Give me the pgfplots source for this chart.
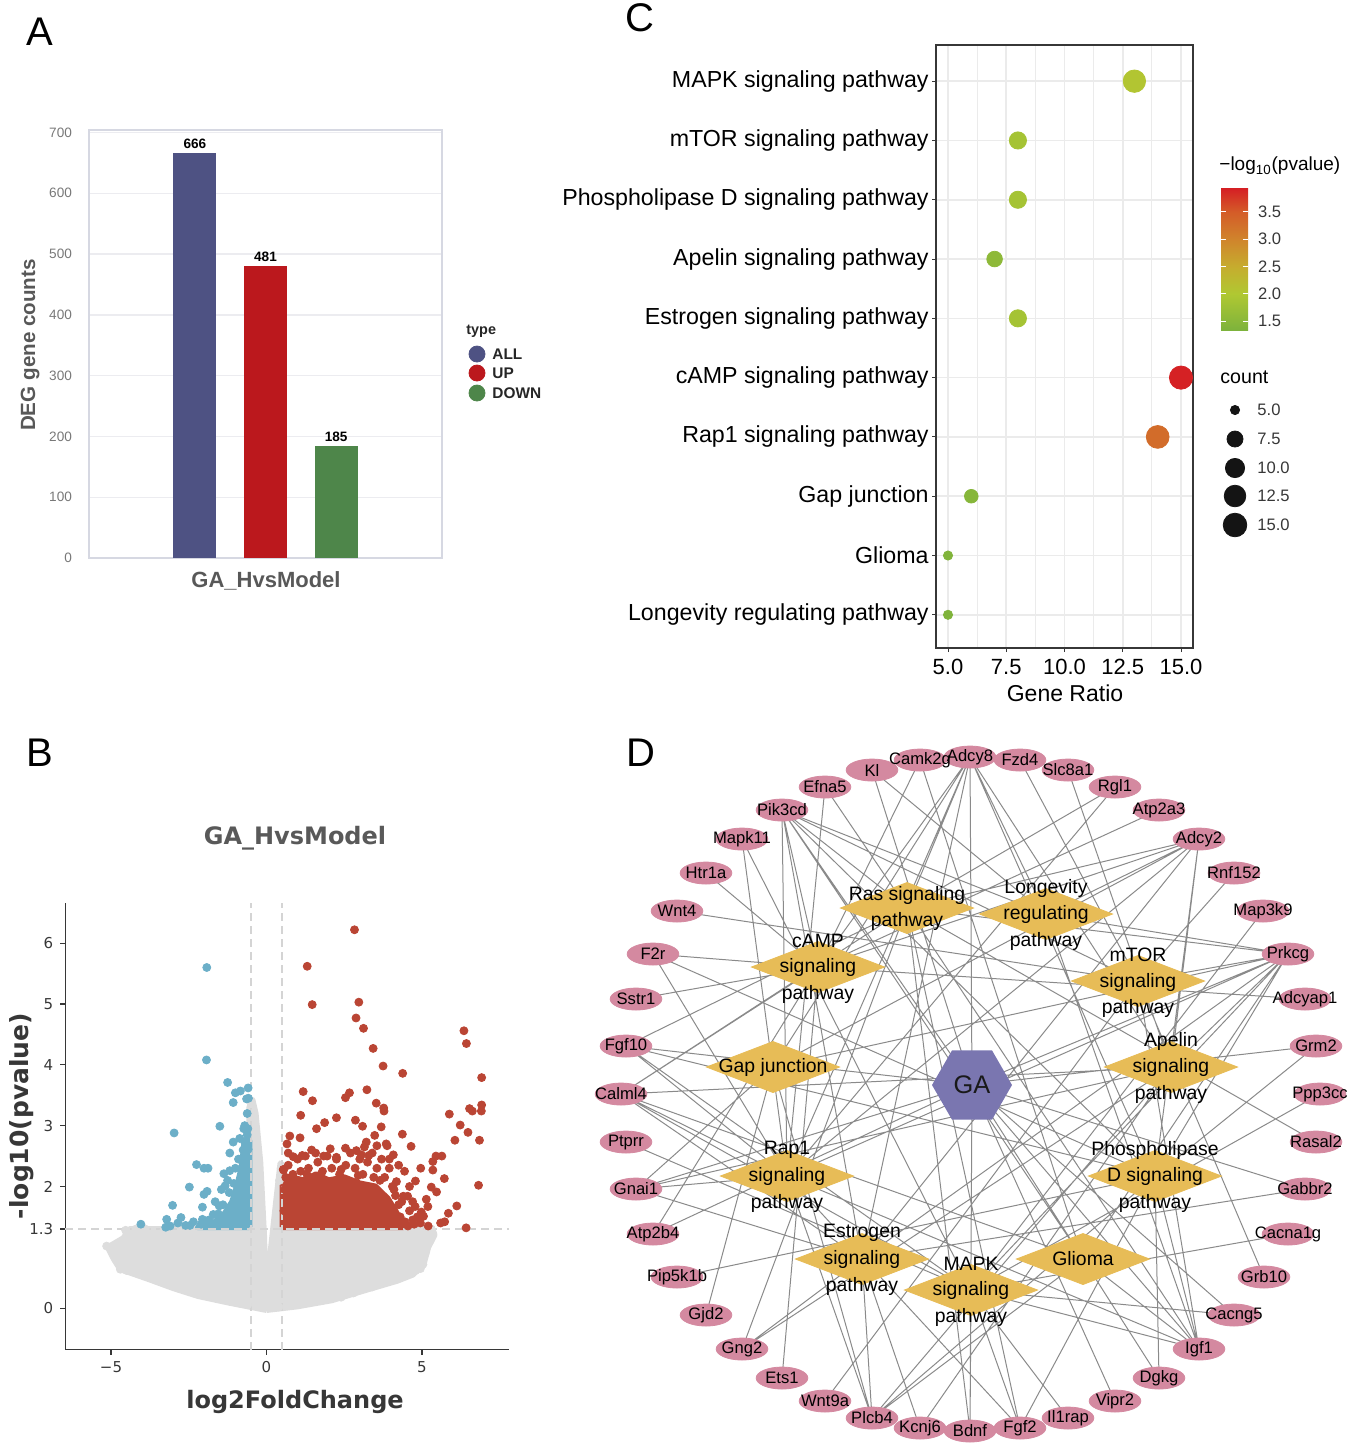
\documentclass[border=0pt]{standalone}
\usepackage{fontspec}
\setmainfont{Liberation Sans}
\newfontfamily\dejavu{DejaVu Sans}
\usepackage{pgfplots}
\usepackage{pgfplotstable}
\pgfplotsset{compat=1.18}
\usetikzlibrary{shapes.geometric}

\newcommand{\fs}[1]{\fontsize{#1}{#1}\selectfont}

\definecolor{barAll}{RGB}{78,82,131}
\definecolor{barUp}{RGB}{187,24,29}
\definecolor{barDown}{RGB}{78,134,74}
\definecolor{boxA}{RGB}{214,216,226}
\definecolor{gridA}{RGB}{236,236,240}
\definecolor{txtA}{RGB}{120,120,120}
\definecolor{labA}{RGB}{88,88,88}
\definecolor{upRed}{RGB}{186,69,52}
\definecolor{downBlue}{RGB}{108,175,200}
\definecolor{nsGray}{RGB}{221,221,221}
\definecolor{dashGray}{RGB}{212,212,212}
\definecolor{axDark}{RGB}{55,55,55}
\definecolor{gridC}{RGB}{235,235,235}
\definecolor{geneCol}{RGB}{212,137,160}
\definecolor{pathCol}{RGB}{231,188,87}
\definecolor{gaCol}{RGB}{122,118,176}
\definecolor{edgeCol}{RGB}{138,138,138}

% network nodes (pixel coordinates of panel D)
\pgfplotstableread{
x y label
872 770 Kl
920 760 Camk2g
970 757 Adcy8
1020 760 Fzd4
1068 770 Slc8a1
1115 787 Rgl1
1159 810 Atp2a3
1199 839 Adcy2
1234 873 Rnf152
1263 911 Map3k9
1288 954 Prkcg
1305 999 Adcyap1
1316 1046 Grm2
1320 1094 Ppp3cc
1316 1142 Rasal2
1305 1189 Gabbr2
1288 1234 Cacna1g
1264 1277 Grb10
1234 1315 Cacng5
1199 1349 Igf1
1159 1378 Dgkg
1115 1401 Vipr2
1068 1418 Il1rap
1020 1428 Fgf2
970 1431 Bdnf
920 1428 Kcnj6
872 1418 Plcb4
825 1401 Wnt9a
782 1378 Ets1
742 1349 Gng2
706 1315 Gjd2
677 1277 Pip5k1b
653 1234 Atp2b4
636 1189 Gnai1
626 1142 Ptprr
621 1094 Calml4
626 1046 Fgf10
636 999 Sstr1
653 954 F2r
677 911 Wnt4
706 873 Htr1a
742 839 Mapk11
782 810 Pik3cd
825 787 Efna5
}\genes

\pgfplotstableread{
x y label
907 895 {Ras signaling}
907 921 pathway
1046 888 Longevity
1046 914 regulating
1046 941 pathway
818 941 cAMP
818 967 signaling
818 994 pathway
1138 955 mTOR
1138 982 signaling
1138 1008 pathway
773 1067 {Gap junction}
1171 1041 Apelin
1171 1067 signaling
1171 1094 pathway
787 1150 Rap1
787 1176 signaling
787 1203 pathway
1155 1150 Phospholipase
1155 1176 {D signaling}
1155 1203 pathway
862 1233 Estrogen
862 1259 signaling
862 1286 pathway
1083 1259 Glioma
971 1264 MAPK
971 1290 signaling
971 1317 pathway
}\pathtext

\begin{document}
\begin{tikzpicture}
\useasboundingbox (0,0) rectangle (675.5pt,-723.5pt);

% ---------- A: DEG counts ----------
\begin{axis}[
  at={(44.5pt,-279pt)}, anchor=south west,
  scale only axis, width=176.5pt, height=214pt,
  xmin=0, xmax=1, ymin=0, ymax=704,
  xtick=\empty,
  ytick={0,100,...,700},
  yticklabels={0,100,200,300,400,500,600,700},
  major tick length=0pt,
  yticklabel style={font=\fs{6.8}, text=txtA, xshift=-5pt},
  axis line style={draw=boxA, line width=0.6pt},
  ymajorgrids, major grid style={draw=gridA, line width=0.7pt},
  clip=false,
  point meta=explicit symbolic,
  nodes near coords,
  nodes near coords style={font=\bfseries\fs{6.8}, text=black, inner sep=2pt},
]
\addplot[ybar, bar width=0.122, bar shift=0pt, fill=barAll, draw=none] coordinates {(0.3,666) [666]};
\addplot[ybar, bar width=0.122, bar shift=0pt, fill=barUp, draw=none] coordinates {(0.5,481) [481]};
\addplot[ybar, bar width=0.122, bar shift=0pt, fill=barDown, draw=none] coordinates {(0.7,185) [185]};
\end{axis}

% ---------- B: volcano ----------
\begin{axis}[
  at={(32.65pt,-674.75pt)}, anchor=south west,
  scale only axis, width=221.85pt, height=223.25pt,
  xmin=-6.47, xmax=7.8, ymin=-0.68, ymax=6.66,
  axis x line*=bottom, axis y line*=left,
  axis line style={-, draw=axDark, line width=0.6pt},
  x axis line style={-}, y axis line style={-},
  xtick={-5,0,5}, xticklabels={−5,0,5},
  ytick={0,1.3,2,3,4,5,6}, yticklabels={0,1.3,2,3,4,5,6},
  tick align=outside, major tick length=2.5pt,
  tick style={draw=axDark, line width=0.6pt},
  ticklabel style={font=\dejavu\fs{7.5}, text=axDark},
  clip=false,
]
% dense non-significant cloud
\addplot[fill=nsGray, draw=nsGray, line width=3pt, line join=round] coordinates {
(0,-0.03) (1.0,0.03) (2.1,0.13) (3.2,0.3) (4.2,0.45) (4.7,0.55) (5.05,0.72)
(5.2,1.0) (5.4,1.2) (5.2,1.3) (0.52,1.3) (0.52,2.35) (0.45,2.38) (0.3,1.7)
(0.15,1.0) (0.04,0.5) (-0.04,0.5) (-0.08,1.2) (-0.2,2.4) (-0.35,3.2)
(-0.45,3.42) (-0.55,3.3) (-0.55,1.3) (-4.4,1.3) (-4.6,1.15) (-5.1,1.0)
(-4.9,0.8) (-4.7,0.64) (-3.8,0.48) (-3.0,0.33) (-2.2,0.2) (-1.2,0.09) (0,-0.03)
};
\addplot[only marks, mark=*, mark size=2pt, color=nsGray] coordinates {
(-5.14,1.02) (-4.53,1.28) (-4.45,1.18) (-4.3,1.05) (-4.1,0.95) (-3.9,1.1)
(-3.6,1.2) (-3.3,1.28) (-4.7,0.64) (-4.5,0.62) (-4.0,0.7) (-3.5,0.5)
(-2.6,0.3) (-1.8,0.2) (-1.0,0.1) (5.35,1.23) (5.25,1.1) (5.1,0.9)
(5.03,0.72) (4.8,0.62) (4.5,0.55) (3.8,0.42) (2.8,0.25) (1.8,0.13)
(0.9,0.06) (-0.5,3.38) (-0.45,3.2) (-0.4,2.9) (-0.3,2.6) (0.47,2.3) (0.42,2.1)
(-4.85,0.9) (-4.2,0.8) (-3.2,0.42) (-2.9,0.38) (-2.4,0.28) (-1.5,0.16)
(-0.6,0.06) (0.4,0.02) (1.4,0.1) (2.4,0.18) (3.4,0.35) (4.1,0.5) (4.95,0.65)
(5.3,1.3) (4.9,1.3) (-4.2,1.3) (-3.9,1.3)
};
% up-regulated
\addplot[fill=upRed, draw=upRed, line width=3pt, line join=round] coordinates {
(0.52,1.33) (0.52,2.05) (0.8,2.15) (1.2,2.1) (1.6,2.2) (2.0,2.1) (2.5,2.15)
(3.0,2.05) (3.5,2.0) (3.9,1.8) (4.2,1.55) (4.4,1.33) (0.52,1.33)
};
\addplot[only marks, mark=*, mark size=2pt, color=upRed] coordinates {
(2.83,6.22) (1.31,5.62) (1.47,4.99) (2.97,5.03) (2.88,4.77) (3.12,4.60)
(3.43,4.27) (3.75,3.98) (4.38,3.86) (6.35,4.56) (6.43,4.35) (6.92,3.79)
(6.92,3.34) (6.91,3.24) (6.53,3.28) (6.62,3.24) (5.88,3.19) (6.23,3.01)
(6.06,2.76) (6.48,2.89) (6.85,2.76) (6.82,2.02) (6.42,1.32) (6.12,1.68)
(5.85,1.56) (5.73,1.42) (5.60,1.40) (5.72,2.13) (5.47,1.91) (5.30,1.99)
(5.35,2.27) (5.35,2.41) (5.64,2.50) (5.45,2.50) (4.96,2.30) (4.79,2.09)
(4.65,2.66) (4.37,2.86) (4.40,1.84) (4.54,1.84) (4.78,1.67) (4.98,1.58)
(5.14,1.79) (5.19,1.67) (5.05,1.51) (4.95,1.40) (4.75,1.38) (4.44,2.25)
(4.18,2.08) (4.08,2.52) (3.88,2.67) (3.69,2.98) (3.53,3.37) (3.77,3.29)
(3.78,3.24) (3.23,3.59) (2.67,3.54) (2.54,3.46) (2.86,3.09) (3.09,2.99)
(2.25,3.13) (1.87,3.05) (1.61,2.95) (1.18,3.56) (1.48,3.41) (1.10,3.17)
(1.08,2.80) (0.75,2.83) (0.66,2.70) (0.54,2.28) (3.48,2.84) (3.55,2.67)
(3.85,2.70) (3.21,2.73) (2.54,2.63) (2.89,2.59) (3.05,2.52) (3.29,2.51)
(2.25,2.48) (1.58,2.55) (1.84,2.50) (1.15,2.51) (0.86,2.49)
(0.55,2.27) (0.58,1.95) (0.56,1.6) (0.7,2.35) (0.85,2.2) (1.0,2.45)
(1.1,2.25) (1.25,2.5) (1.35,2.3) (1.5,2.15) (1.65,2.4) (1.8,2.25)
(1.95,2.5) (2.1,2.3) (2.25,2.45) (2.35,2.2) (2.55,2.35) (2.7,2.55)
(2.85,2.3) (3.0,2.45) (3.1,2.2) (3.25,2.4) (3.4,2.55) (3.55,2.3)
(3.7,2.45) (3.8,2.15) (3.95,2.3) (4.05,2.0) (4.15,1.85) (4.25,1.7)
(4.3,1.5) (4.45,1.42) (4.55,1.35) (4.7,1.45) (3.35,1.9) (2.75,1.95)
(2.2,2.0) (1.4,2.0) (0.9,1.95) (4.0,1.6) (4.6,1.6) (4.85,1.5) (5.2,1.35)
(0.62,2.15) (1.3,2.2) (1.75,2.05) (2.4,2.28) (2.95,2.18) (3.45,2.15)
(3.65,2.1) (4.1,1.95) (4.35,1.75) (0.7,2.55) (1.45,2.6) (2.05,2.62)
(2.6,2.1) (3.15,2.65) (3.95,2.45) (4.25,2.35) (4.6,2.0) (4.7,1.75)
};
% down-regulated
\addplot[fill=downBlue, draw=downBlue, line width=3pt, line join=round] coordinates {
(-0.55,1.33) (-0.55,2.75) (-0.7,2.75) (-0.8,2.3) (-0.95,2.0) (-1.1,1.75)
(-1.35,1.55) (-1.7,1.4) (-2.2,1.33) (-0.55,1.33)
};
\addplot[only marks, mark=*, mark size=2pt, color=downBlue] coordinates {
(-1.92,5.60) (-1.93,4.08) (-1.25,3.71) (-1.00,3.54) (-0.84,3.57) (-0.59,3.62)
(-1.07,3.38) (-0.64,3.44) (-1.50,2.99) (-0.73,2.95) (-2.97,2.88) (-2.25,2.36)
(-2.01,2.30) (-1.88,2.30) (-2.48,1.99) (-3.02,1.69) (-3.21,1.46) (-2.75,1.49)
(-4.04,1.38) (-3.24,1.33) (-2.46,1.36) (-2.06,1.46) (-2.01,1.87) (-1.91,1.92)
(-2.06,1.66) (-1.71,1.54) (-1.52,1.68) (-1.37,2.21) (-1.18,2.26) (-1.33,2.01)
(-1.18,2.55) (-1.07,2.73) (-0.86,2.79) (-0.70,2.73) (-0.59,2.61)
(-0.62,2.85) (-0.75,2.6) (-0.9,2.45) (-1.0,2.3) (-1.05,2.05) (-1.2,1.9)
(-1.25,2.1) (-1.4,1.7) (-1.55,1.55) (-1.85,1.45) (-2.1,1.38) (-2.35,1.42)
(-2.6,1.36) (-2.85,1.4) (-3.1,1.35) (-1.65,1.75) (-1.45,1.95) (-0.6,2.95)
(-0.7,3.0) (-0.62,3.2) (-0.58,3.45)
};
% thresholds
\addplot[dashGray, line width=0.8pt, dash pattern=on 4pt off 2.5pt] coordinates {(-0.5,-0.68) (-0.5,6.66)};
\addplot[dashGray, line width=0.8pt, dash pattern=on 4pt off 2.5pt] coordinates {(0.5,-0.68) (0.5,6.66)};
\addplot[dashGray, line width=0.8pt, dash pattern=on 4pt off 2.5pt] coordinates {(-6.47,1.3) (7.8,1.3)};
\end{axis}

% ---------- C: KEGG dot plot ----------
\begin{axis}[
  at={(468pt,-324pt)}, anchor=south west,
  scale only axis, width=128.5pt, height=301.5pt,
  xmin=4.485, xmax=15.515, ymin=0.44, ymax=10.61,
  xtick={5,7.5,10,12.5,15}, xticklabels={5.0,7.5,10.0,12.5,15.0},
  minor xtick={6.25,8.75,11.25,13.75},
  ytick={1,...,10},
  yticklabels={Longevity regulating pathway, Glioma, Gap junction,
    Rap1 signaling pathway, cAMP signaling pathway, Estrogen signaling pathway,
    Apelin signaling pathway, Phospholipase D signaling pathway,
    mTOR signaling pathway, MAPK signaling pathway},
  xmajorgrids, ymajorgrids, xminorgrids,
  major grid style={draw=gridC, line width=0.8pt},
  minor grid style={draw=gridC, line width=0.4pt},
  tick pos=left, tick align=outside, major tick length=2pt, minor tick length=0pt,
  tick style={draw=axDark, line width=0.5pt},
  xticklabel style={font=\fs{11}, text=black},
  yticklabel style={font=\fs{11.6}, text=black, inner xsep=1.5pt},
  axis line style={draw=axDark, line width=0.6pt},
  colormap={pv}{rgb255(0pt)=(124,178,60) rgb255(68pt)=(176,200,50)
    rgb255(118pt)=(198,172,46) rgb255(168pt)=(208,132,44)
    rgb255(218pt)=(212,92,40) rgb255(262pt)=(213,30,36)},
  point meta min=1.32, point meta max=3.94,
  colorbar,
  colorbar style={
    at={(1.109,0.763)}, anchor=north west,
    scale only axis, width=13.5pt, height=71.5pt,
    xtick=\empty,
    ytick={1.5,2,2.5,3,3.5}, yticklabels={1.5,2.0,2.5,3.0,3.5},
    yticklabel pos=right, ytick pos=both, tick align=inside,
    yticklabel style={font=\fs{8.3}, text=axDark, xshift=1.5pt},
    major tick length=2.5pt, tick style={draw=white, line width=0.5pt},
    axis line style={draw=none},
  },
  clip=false,
]
\addplot[scatter, only marks, mark=*, point meta=explicit,
  scatter/use mapped color={draw=mapped color, fill=mapped color},
  visualization depends on={\thisrow{r}\as\rr},
  scatter/@pre marker code/.append style={/tikz/mark size=\rr pt}]
  table[x=x, y=y, meta=p] {
x y p r
5 1 1.36 2.3
5 2 1.38 2.3
6 3 1.45 3.4
14 4 3.30 5.7
15 5 3.92 5.8
8 6 1.85 4.3
7 7 1.55 3.9
8 8 1.85 4.3
8 9 1.85 4.3
13 10 2.05 5.6
};
\end{axis}

% ---------- overlay in pixel units: legends, labels, network D ----------
\begin{axis}[
  at={(0pt,0pt)}, anchor=north west,
  scale only axis, width=675.5pt, height=723.5pt,
  xmin=0, xmax=1351, ymin=0, ymax=1447, y dir=reverse,
  hide axis, clip=false,
]
% panel letters
\node[font=\fs{20}] at (axis cs:40,32) {A};
\node[font=\fs{20}] at (axis cs:40,753) {B};
\node[font=\fs{20}] at (axis cs:640,18) {C};
\node[font=\fs{20}] at (axis cs:641,753) {D};

% A labels and legend
\node[font=\bfseries\fs{10.3}, text=labA, rotate=90] at (axis cs:30,345) {DEG gene counts};
\node[font=\bfseries\fs{11}, text=labA] at (axis cs:266,581) {GA\_HvsModel};
\node[font=\bfseries\fs{7.2}, text=black!85, anchor=west, inner sep=0pt] at (axis cs:466,331) {type};
\addplot[only marks, mark=*, mark size=4pt, color=barAll] coordinates {(477,354)};
\addplot[only marks, mark=*, mark size=4pt, color=barUp] coordinates {(477,373)};
\addplot[only marks, mark=*, mark size=4pt, color=barDown] coordinates {(477,393)};
\node[font=\bfseries\fs{7.7}, text=black!85, anchor=west, inner sep=0pt] at (axis cs:492,354) {ALL};
\node[font=\bfseries\fs{7.7}, text=black!85, anchor=west, inner sep=0pt] at (axis cs:492,373) {UP};
\node[font=\bfseries\fs{7.7}, text=black!85, anchor=west, inner sep=0pt] at (axis cs:492,393) {DOWN};

% B labels
\node[font=\dejavu\bfseries\fs{12}, text=black!65] at (axis cs:295,838) {GA\_HvsModel};
\node[font=\dejavu\bfseries\fs{12}, text=axDark] at (axis cs:295,1402) {log2FoldChange};
\node[font=\dejavu\bfseries\fs{12.5}, text=axDark, rotate=90] at (axis cs:22,1116) {-log10(pvalue)};

% C labels and size legend
\node[font=\fs{11.5}] at (axis cs:1065,693) {Gene Ratio};
\node[font=\fs{9.5}, anchor=west, inner sep=0pt] at (axis cs:1219,166) {−log\textsubscript{10}(pvalue)};
\node[font=\fs{9.8}, anchor=west, inner sep=0pt] at (axis cs:1220,377) {count};
\addplot[scatter, only marks, mark=*, point meta=explicit,
  scatter/use mapped color={draw=black!92, fill=black!92},
  visualization depends on={\thisrow{r}\as\rr},
  scatter/@pre marker code/.append style={/tikz/mark size=\rr pt}]
  table[x=x, y=y, meta=r] {
x y r
1235 410 2.3
1235 439 4.0
1235 468 4.8
1235 496 5.4
1235 525 5.9
};
\node[font=\fs{8.3}, text=axDark, anchor=west, inner sep=0pt] at (axis cs:1257,410) {5.0};
\node[font=\fs{8.3}, text=axDark, anchor=west, inner sep=0pt] at (axis cs:1257,439) {7.5};
\node[font=\fs{8.3}, text=axDark, anchor=west, inner sep=0pt] at (axis cs:1257,468) {10.0};
\node[font=\fs{8.3}, text=axDark, anchor=west, inner sep=0pt] at (axis cs:1257,496) {12.5};
\node[font=\fs{8.3}, text=axDark, anchor=west, inner sep=0pt] at (axis cs:1257,525) {15.0};

% D: edges
\addplot[edgeCol, line width=0.5pt, line join=round, mark=none, unbounded coords=jump] coordinates {
(872,770) (1046,914) (nan,nan)
(818,967) (920,760) (1083,1259) (nan,nan)
(970,757) (818,967) (970,757) (907,908) (970,757) (787,1176) (970,757) (773,1067) (970,757) (862,1259) (970,757) (1171,1067) (970,757) (1155,1176) (970,757) (1046,914) (nan,nan)
(1020,760) (1138,981) (nan,nan)
(1068,770) (1171,1067) (nan,nan)
(907,908) (1115,787) (787,1176) (nan,nan)
(1159,810) (818,967) (nan,nan)
(1199,839) (818,967) (1199,839) (907,908) (1199,839) (787,1176) (1199,839) (773,1067) (1199,839) (862,1259) (1199,839) (1171,1067) (1199,839) (1155,1176) (1199,839) (1046,914) (nan,nan)
(1234,873) (1138,981) (nan,nan)
(1263,911) (971,1290) (nan,nan)
(1288,954) (907,908) (1288,954) (1046,914) (1288,954) (1138,981) (1288,954) (1171,1067) (1288,954) (787,1176) (1288,954) (773,1067) (1288,954) (1083,1259) (1288,954) (971,1290) (1288,954) (1155,1176) (1288,954) (862,1259) (nan,nan)
(1305,999) (818,967) (nan,nan)
(1316,1046) (1155,1176) (nan,nan)
(1320,1094) (971,1290) (nan,nan)
(1316,1142) (907,908) (nan,nan)
(1305,1189) (862,1259) (nan,nan)
(1288,1234) (971,1290) (nan,nan)
(1264,1277) (1138,981) (nan,nan)
(1234,1315) (971,1290) (nan,nan)
(1199,1349) (971,1290) (1199,1349) (1083,1259) (1199,1349) (1155,1176) (1199,1349) (787,1176) (1199,1349) (907,908) (1199,1349) (1046,914) (1199,1349) (1138,981) (nan,nan)
(1159,1378) (1155,1176) (nan,nan)
(1068,1418) (971,1290) (nan,nan)
(1020,1428) (971,1290) (1020,1428) (907,908) (1020,1428) (787,1176) (1020,1428) (1155,1176) (nan,nan)
(971,1290) (970,1431) (907,908) (nan,nan)
(862,1259) (920,1428) (1171,1067) (nan,nan)
(872,1418) (862,1259) (872,1418) (787,1176) (872,1418) (773,1067) (872,1418) (1083,1259) (872,1418) (1171,1067) (872,1418) (1155,1176) (nan,nan)
(825,1401) (1138,981) (nan,nan)
(782,1378) (818,967) (nan,nan)
(742,1349) (862,1259) (742,1349) (907,908) (742,1349) (1171,1067) (nan,nan)
(706,1315) (773,1067) (nan,nan)
(677,1277) (1155,1176) (nan,nan)
(653,1234) (818,967) (nan,nan)
(636,1189) (787,1176) (636,1189) (773,1067) (636,1189) (862,1259) (636,1189) (1171,1067) (nan,nan)
(626,1142) (971,1290) (nan,nan)
(621,1094) (907,908) (621,1094) (818,967) (621,1094) (787,1176) (621,1094) (862,1259) (621,1094) (1083,1259) (621,1094) (971,1290) (621,1094) (1171,1067) (nan,nan)
(626,1046) (907,908) (626,1046) (787,1176) (626,1046) (971,1290) (626,1046) (1155,1176) (nan,nan)
(636,999) (818,967) (nan,nan)
(653,954) (818,967) (653,954) (787,1176) (653,954) (1155,1176) (nan,nan)
(677,911) (1138,981) (nan,nan)
(706,873) (818,967) (nan,nan)
(787,1176) (742,839) (971,1290) (nan,nan)
(782,810) (907,908) (782,810) (787,1176) (782,810) (1138,981) (782,810) (862,1259) (782,810) (1046,914) (782,810) (1155,1176) (782,810) (1083,1259) (782,810) (818,967) (nan,nan)
(907,908) (825,787) (787,1176) (nan,nan)
(972,1085) (970,1431) (972,1085) (1199,1349) (972,1085) (1234,1315) (972,1085) (636,1189) (972,1085) (782,810) (972,1085) (970,757) (972,1085) (1316,1046) (972,1085) (1115,1401) (972,1085) (626,1046) (972,1085) (1288,954) (972,1085) (653,1234) (972,1085) (872,770) (972,1085) (1305,1189) (972,1085) (1159,1378)
};
% D: pathway diamonds
\addplot[only marks, mark=diamond*, mark size=12.75pt, color=pathCol,
  mark options={xscale=3.48}] coordinates {
(907,908) (1046,914) (818,967) (1138,981) (773,1067) (1171,1067)
(787,1176) (1155,1176) (862,1259) (1083,1259) (971,1290)
};
% D: gene ellipses
\addplot[only marks, mark=*, mark size=5.5pt, color=geneCol,
  mark options={xscale=2.35}] table[x=x, y=y] {\genes};
% D: gene names
\addplot[only marks, mark=*, mark size=0pt, color=white, opacity=0,
  text opacity=1, point meta=explicit symbolic, nodes near coords,
  nodes near coords align={center},
  nodes near coords style={font=\fs{8.3}, text=black, inner sep=0pt}]
  table[x=x, y=y, meta=label] {\genes};
% D: pathway names
\addplot[only marks, mark=*, mark size=0pt, color=white, opacity=0,
  text opacity=1, point meta=explicit symbolic, nodes near coords,
  nodes near coords align={center},
  nodes near coords style={font=\fs{9.7}, text=black, inner sep=0pt}]
  table[x=x, y=y, meta=label] {\pathtext};
% D: GA hub
\addplot[only marks, mark=*, mark size=0pt, color=gaCol,
  point meta=explicit symbolic, nodes near coords, nodes near coords align={center},
  nodes near coords style={regular polygon, regular polygon sides=6,
    minimum size=40pt, inner sep=0pt, fill=gaCol, text=black!90, font=\fs{12.7}}]
  coordinates {(972,1085) [GA]};
\end{axis}
\end{tikzpicture}
\end{document}
